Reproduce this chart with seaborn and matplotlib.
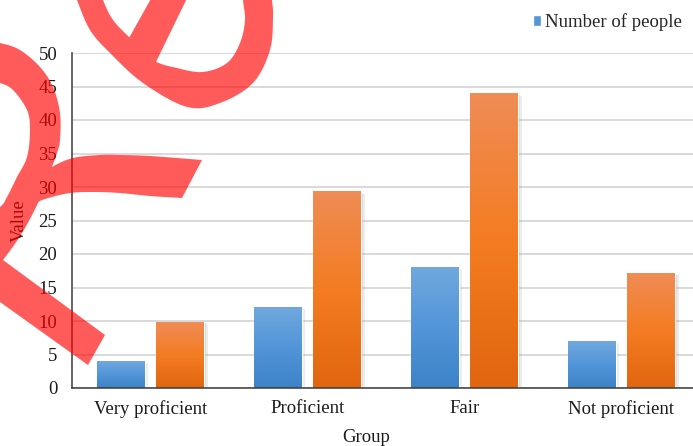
import numpy as np
import pandas as pd
import matplotlib
matplotlib.use("Agg")
import matplotlib.pyplot as plt
import matplotlib.patheffects as pe
from matplotlib.patches import Patch, PathPatch, Rectangle
from matplotlib.path import Path
from matplotlib.transforms import Affine2D
from matplotlib.colors import to_rgb
import seaborn as sns

# ---- data -------------------------------------------------------------
groups = ["Very proficient", "Proficient", "Fair", "Not proficient"]
people = [4, 12, 18, 7]
percent = [9.76, 29.27, 43.90, 17.07]
series_names = ["Number of people", "Percentage"]
y_ticks = [0, 5, 10, 15, 20, 25, 30, 35, 40, 45, 50]

df = pd.DataFrame({
    "Group": groups * 2,
    "Value": people + percent,
    "Series": [series_names[0]] * len(groups) + [series_names[1]] * len(groups),
})

# ---- style ------------------------------------------------------------
sns.set_style("white")
plt.rcParams["font.family"] = ["Liberation Serif", "DejaVu Serif"]
FS = 13.5
BLUE = "#5193D6"
ORANGE = "#F07A22"
gradients = {
    BLUE: ["#3D83C7", "#5295D8", "#70A8DE"],
    ORANGE: ["#E1660F", "#F47C22", "#EF8C55"],
}

W, H = 693, 446
fig = plt.figure(figsize=(W / 100, H / 100), dpi=100)
ax = fig.add_axes([72 / W, 58 / H, 628 / W, 335 / H])

sns.barplot(data=df, x="Group", y="Value", hue="Series", order=groups,
            hue_order=series_names, palette=[BLUE, ORANGE], saturation=1,
            width=0.764, gap=0.2, errorbar=None, legend=False, ax=ax)

ax.set_xlim(-0.5, 3.5)
ax.set_ylim(0, 50)
ax.set_yticks(y_ticks)
ax.set_yticklabels([str(t) for t in y_ticks], fontsize=FS)
ax.set_xticks(range(len(groups)))
ax.set_xticklabels(groups, fontsize=FS)
ax.set_xticks([i - 0.5 for i in range(len(groups) + 1)], minor=True)

# vertical gradient fill plus soft shadow on each bar
for bar in list(ax.patches):
    if not isinstance(bar, Rectangle) or bar.get_height() <= 0:
        continue
    fc = bar.get_facecolor()[:3]
    key = min(gradients, key=lambda k: np.sum((np.array(to_rgb(k)) - fc) ** 2))
    stops = np.array([to_rgb(c) for c in gradients[key]])
    t = np.linspace(0, 1, 120)
    grad = np.empty((120, 1, 3))
    for ch in range(3):
        grad[:, 0, ch] = np.interp(t, [0, 0.5, 1], stops[:, ch])
    x0, y0 = bar.get_x(), bar.get_y()
    ax.imshow(grad, extent=[x0, x0 + bar.get_width(), y0, y0 + bar.get_height()],
              origin="lower", aspect="auto", zorder=bar.get_zorder() + 0.1,
              interpolation="bilinear")
    bar.set_path_effects([
        pe.SimplePatchShadow(offset=(2.2, -1.2), shadow_rgbFace="#9a9a9a", alpha=0.18),
        pe.SimplePatchShadow(offset=(1.1, -0.6), shadow_rgbFace="#8a8a8a", alpha=0.22),
        pe.Normal(),
    ])
ax.set_xlim(-0.5, 3.5)
ax.set_ylim(0, 50)
ax.set_aspect("auto")

# axes, ticks, grid
for side in ("top", "right"):
    ax.spines[side].set_visible(False)
for side in ("left", "bottom"):
    ax.spines[side].set_color("#3a3a3a")
    ax.spines[side].set_linewidth(1.1)
ax.tick_params(axis="y", direction="out", length=3.6, width=1.1, color="#3a3a3a",
               pad=7, labelcolor="#1a1a1a")
ax.tick_params(axis="x", which="major", length=0, pad=8.5, labelcolor="#1a1a1a")
ax.tick_params(axis="x", which="minor", direction="out", length=3.6, width=1.1,
               color="#3a3a3a")
ax.yaxis.grid(True, color="#D9D9D9", linewidth=1.4)
ax.xaxis.grid(False)
ax.set_axisbelow(True)

ax.set_xlabel("Group", fontsize=FS, color="#1a1a1a")
ax.xaxis.set_label_coords(0.468, -0.121)
ax.set_ylabel("Value", fontsize=FS, color="#1a1a1a")
ax.yaxis.set_label_coords(-0.070, 0.5)

fig.legend([Patch(facecolor=gradients[BLUE][1])], series_names[:1], loc="upper left",
           bbox_to_anchor=(533 / W, 1 - 13 / H), frameon=False, fontsize=FS,
           handlelength=0.45, handleheight=0.55, handletextpad=0.2,
           borderpad=0, borderaxespad=0)


# ---- red stamp drawn over the figure (pixel coordinates, y downward) --
def smooth(pts, n=6):
    p = np.asarray(pts, float)
    ext = np.vstack([p[0], p, p[-1]])
    out = []
    for i in range(1, len(ext) - 2):
        p0, p1, p2, p3 = ext[i - 1:i + 3]
        for s in np.linspace(0, 1, n, endpoint=False):
            out.append(0.5 * (2 * p1 + (-p0 + p2) * s
                              + (2 * p0 - 5 * p1 + 4 * p2 - p3) * s * s
                              + (-p0 + 3 * p1 - 3 * p2 + p3) * s ** 3))
    out.append(p[-1])
    return np.array(out)


ring_outer = [(70, -20), (77, 0), (90, 30), (110, 53), (143, 83), (187, 107),
              (220, 103), (253, 83), (270, 50), (273, 17), (272, 0), (270, -20)]
ring_inner = [(243, -20), (243, 0), (245, 20), (240, 43), (227, 63), (203, 72),
              (177, 68), (153, 60), (130, 38), (113, 20), (103, 0), (97, -20)]
ring_bar = [(124, 47), (157, -12), (192, -12), (155, 64)]

bowl_outer = [(-20, 40), (0, 43), (20, 50), (40, 67), (53, 87), (60, 113), (60, 140),
              (57, 153), (52, 167), (44, 190), (25, 228), (3, 260), (-20, 285)]
bowl_inner = [(-20, 218), (0, 207), (7, 197), (17, 177), (27, 157), (30, 130),
              (27, 110), (13, 90), (0, 83), (-20, 78)]
cross_top = [(40, 178), (52, 167), (73, 158), (100, 155), (120, 155), (150, 156), (202, 160)]
cross_bottom = [(182, 198), (150, 196), (120, 193), (95, 192), (70, 193), (45, 199), (32, 205)]
leg = [(-20, 248), (3, 260), (105, 335), (88, 365), (0, 302), (-20, 290)]

shapes = [
    np.vstack([smooth(ring_outer), smooth(ring_inner)]),
    np.array(ring_bar, float),
    np.vstack([smooth(bowl_outer), smooth(bowl_inner)]),
    np.vstack([smooth(cross_top), smooth(cross_bottom)]),
    np.array(leg, float),
]

# one compound path with a common winding direction, so overlaps are filled once
verts, codes = [], []
for poly in shapes:
    x, y = poly[:, 0], poly[:, 1]
    if 0.5 * np.sum(x * np.roll(y, -1) - np.roll(x, -1) * y) < 0:
        poly = poly[::-1]
    verts.extend(poly.tolist() + [poly[0].tolist()])
    codes.extend([Path.MOVETO] + [Path.LINETO] * (len(poly) - 1) + [Path.CLOSEPOLY])

stamp = PathPatch(Path(verts, codes), facecolor="#FF0000", edgecolor="none", alpha=0.645,
                  transform=Affine2D().scale(1, -1).translate(0, H), zorder=20)
fig.add_artist(stamp)

fig.savefig("out.png", dpi=100)
